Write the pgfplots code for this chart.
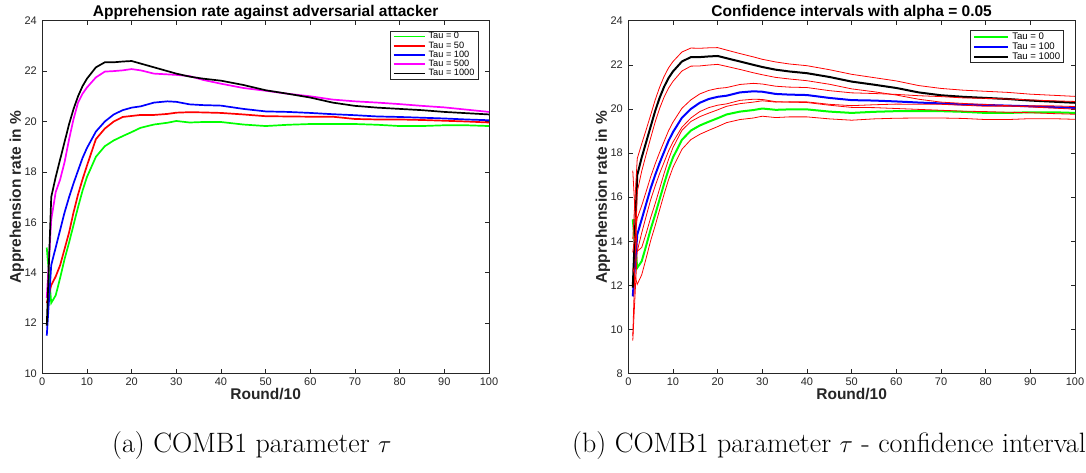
\documentclass[border=0pt]{standalone}
\usepackage{pgfplots}
\pgfplotsset{compat=1.18}
\usepackage{pgfplotstable}
\usepackage{fontspec}
\newfontfamily\arial{Liberation Sans}
\definecolor{axgray}{RGB}{38,38,38}
\definecolor{mgreen}{RGB}{0,255,0}
\definecolor{mred}{RGB}{255,0,0}
\definecolor{mblue}{RGB}{0,0,255}
\definecolor{mmag}{RGB}{255,0,255}

\pgfplotstableread{
x g r b m k
1 15.0 12.8 11.5 13.0 11.9
2 12.8 13.5 14.3 16.1 17.0
3 13.1 13.85 15.0 17.2 17.8
4 13.8 14.3 15.7 17.7 18.5
5 14.55 14.95 16.4 18.4 19.2
6 15.2 15.6 17.0 19.3 19.9
7 15.9 16.4 17.55 20.1 20.5
8 16.6 17.1 18.05 20.75 21.0
9 17.25 17.7 18.55 21.1 21.4
10 17.8 18.25 18.95 21.35 21.7
12 18.6 19.3 19.6 21.75 22.15
14 19.02 19.72 20.0 21.98 22.35
16 19.25 20.0 20.28 22.0 22.35
18 19.42 20.18 20.45 22.03 22.38
20 19.58 20.22 20.55 22.08 22.4
22 19.75 20.26 20.6 22.03 22.3
25 19.88 20.26 20.75 21.9 22.15
28 19.95 20.3 20.8 21.87 22.0
30 20.02 20.35 20.78 21.85 21.9
33 19.96 20.37 20.68 21.8 21.78
36 19.98 20.36 20.65 21.65 21.7
40 19.98 20.34 20.63 21.5 21.62
45 19.88 20.28 20.5 21.33 21.45
50 19.82 20.21 20.4 21.22 21.24
55 19.87 20.2 20.38 21.1 21.1
60 19.9 20.19 20.34 21.0 20.95
65 19.9 20.19 20.29 20.87 20.75
70 19.9 20.1 20.25 20.8 20.62
75 19.87 20.08 20.2 20.75 20.55
80 19.82 20.08 20.18 20.69 20.5
85 19.82 20.06 20.15 20.62 20.45
90 19.85 20.03 20.12 20.56 20.38
95 19.85 20.0 20.08 20.47 20.33
100 19.82 19.96 20.05 20.38 20.28
}\means

\pgfplotstableread{
x gu gl bu bl ku kl
1 17.2 12.8 13.5 9.5 14.1 9.7
2 13.55 12.05 15.05 13.55 17.75 16.25
3 13.72 12.48 15.62 14.38 18.42 17.18
4 14.36 13.24 16.26 15.14 19.06 17.94
5 15.07 14.03 16.92 15.88 19.72 18.68
6 15.7 14.7 17.5 16.5 20.4 19.4
7 16.38 15.42 18.03 17.07 20.98 20.02
8 17.07 16.13 18.52 17.58 21.47 20.53
9 17.71 16.79 19.01 18.09 21.86 20.94
10 18.25 17.35 19.4 18.5 22.15 21.25
12 19.03 18.17 20.03 19.17 22.58 21.72
14 19.43 18.61 20.41 19.59 22.76 21.94
16 19.65 18.85 20.68 19.88 22.75 21.95
18 19.81 19.03 20.84 20.06 22.77 21.99
20 19.96 19.2 20.93 20.17 22.78 22.02
22 20.12 19.38 20.97 20.23 22.67 21.93
25 20.24 19.52 21.11 20.39 22.51 21.79
28 20.31 19.59 21.16 20.44 22.36 21.64
30 20.37 19.67 21.13 20.43 22.25 21.55
33 20.31 19.61 21.03 20.33 22.13 21.43
36 20.32 19.64 20.99 20.31 22.04 21.36
40 20.32 19.64 20.97 20.29 21.96 21.28
45 20.21 19.55 20.83 20.17 21.78 21.12
50 20.15 19.49 20.73 20.07 21.57 20.91
55 20.19 19.55 20.7 20.06 21.42 20.78
60 20.22 19.58 20.66 20.02 21.27 20.63
65 20.21 19.59 20.6 19.98 21.06 20.44
70 20.21 19.59 20.56 19.94 20.93 20.31
75 20.17 19.57 20.5 19.9 20.85 20.25
80 20.12 19.52 20.48 19.88 20.8 20.2
85 20.12 19.52 20.45 19.85 20.75 20.15
90 20.14 19.56 20.41 19.83 20.67 20.09
95 20.14 19.56 20.37 19.79 20.62 20.04
100 20.11 19.53 20.34 19.76 20.57 19.99
}\cis

\pgfplotsset{
  matstyle/.style={
    scale only axis, width=446.7pt, anchor=south west,
    xmin=0, xmax=100, xtick={0,10,...,100},
    axis line style={draw=axgray, line width=0.6pt},
    every tick/.style={draw=axgray, line width=0.6pt},
    tick align=inside, major tick length=4.5pt,
    ticklabel style={font=\arial\fontsize{11}{12}\selectfont, text=axgray},
    /pgf/number format/assume math mode=true,
    xticklabel style={yshift=-1pt},
    yticklabel style={xshift=-2pt},
    title style={font=\arial\bfseries\fontsize{15.5}{17}\selectfont, at={(axis description cs:0.5,1)}, anchor=base, yshift=-1.5pt},
    xlabel style={font=\arial\bfseries\fontsize{15.5}{17}\selectfont, text=axgray, at={(axis description cs:0.5,0)}, anchor=base, yshift=-25.5pt},
    ylabel style={font=\arial\bfseries\fontsize{15.5}{17}\selectfont, text=axgray, at={(axis description cs:-0.057,0.5)}, anchor=center},
    xlabel={Round/10},
    ylabel={Apprehension rate in \%},
    legend cell align=left,
  }
}

\begin{document}
\begin{tikzpicture}[x=1pt,y=1pt]
\useasboundingbox (0,0) rectangle (1086,472);
\clip (0,0) rectangle (1086,472);

\begin{axis}[matstyle, at={(42.3pt,98.5pt)}, height=352.8pt,
  ymin=10, ymax=24, ytick={10,12,...,24},
  title={Apprehension rate against adversarial attacker},
  legend style={at={(1,1)}, anchor=north east, xshift=-10.7pt, yshift=-10pt,
    draw=axgray, line width=0.6pt, fill=white, inner xsep=3pt, inner ysep=1pt,
    font=\arial\fontsize{9.2}{9}\selectfont, row sep=0pt,
    nodes={inner sep=0.6pt, text height=6.4pt, text depth=1.6pt, text=black}},
  legend image code/.code={\draw[#1] (0pt,0pt) -- (31pt,0pt);},
  /tikz/every odd column/.append style={column sep=2.5pt},
]
\addplot[mgreen, line width=1.7pt] table[x=x,y=g]{\means};
\addlegendentry{Tau = 0}
\addplot[mred, line width=1.7pt] table[x=x,y=r]{\means};
\addlegendentry{Tau = 50}
\addplot[mblue, line width=1.7pt] table[x=x,y=b]{\means};
\addlegendentry{Tau = 100}
\addplot[mmag, line width=1.7pt] table[x=x,y=m]{\means};
\addlegendentry{Tau = 500}
\addplot[black, line width=1.7pt] table[x=x,y=k]{\means};
\addlegendentry{Tau = 1000}
\end{axis}

\begin{axis}[matstyle, at={(628.3pt,98.3pt)}, height=353pt,
  ymin=8, ymax=24, ytick={8,10,...,24},
  title={Confidence intervals with alpha = 0.05},
  legend style={at={(1,1)}, anchor=north east, xshift=-11pt, yshift=-9.6pt,
    draw=axgray, line width=0.6pt, fill=white, inner xsep=3pt, inner ysep=1pt,
    font=\arial\fontsize{9.6}{10}\selectfont, row sep=0pt,
    nodes={inner sep=0.6pt, text height=7pt, text depth=1.8pt, text=black}},
  legend image code/.code={\draw[#1] (0pt,0pt) -- (34pt,0pt);},
  /tikz/every odd column/.append style={column sep=2.5pt},
]
\addplot[mgreen, line width=2pt] table[x=x,y=g]{\means};
\addlegendentry{Tau = 0}
\addplot[mblue, line width=2pt] table[x=x,y=b]{\means};
\addlegendentry{Tau = 100}
\addplot[black, line width=2pt] table[x=x,y=k]{\means};
\addlegendentry{Tau = 1000}
\addplot[mred, line width=0.8pt, forget plot] table[x=x,y=gu]{\cis};
\addplot[mred, line width=0.8pt, forget plot] table[x=x,y=gl]{\cis};
\addplot[mred, line width=0.8pt, forget plot] table[x=x,y=bu]{\cis};
\addplot[mred, line width=0.8pt, forget plot] table[x=x,y=bl]{\cis};
\addplot[mred, line width=0.8pt, forget plot] table[x=x,y=ku]{\cis};
\addplot[mred, line width=0.8pt, forget plot] table[x=x,y=kl]{\cis};
\end{axis}

\node[anchor=base west, inner sep=0pt, font=\fontsize{28}{32}\selectfont] at (112,20) {(a) COMB1 parameter $\tau$};
\node[anchor=base west, inner sep=0pt, font=\fontsize{28}{32}\selectfont] at (572,20) {(b) COMB1 parameter $\tau$ - confidence intervals};
\end{tikzpicture}
\end{document}
